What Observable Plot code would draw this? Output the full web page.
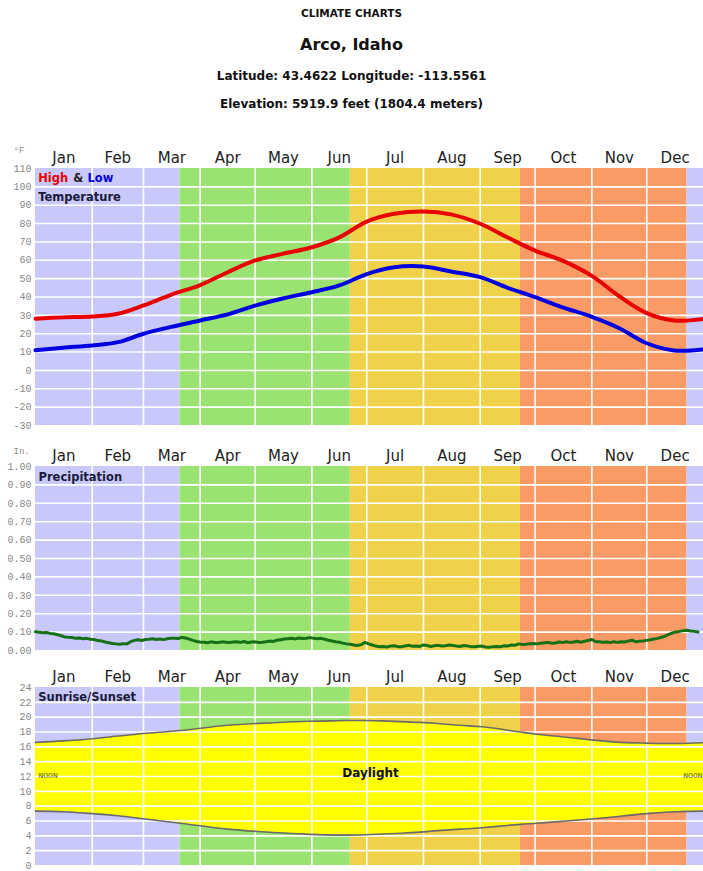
<!DOCTYPE html>
<html>
<head>
<meta charset="utf-8">
<script src="https://cdn.jsdelivr.net/npm/d3@7"></script>
<script src="https://cdn.jsdelivr.net/npm/@observablehq/plot@0.6"></script>
<style>
  body { margin: 0; background: #fff; width: 703px; overflow: hidden; }
  #head { position: relative; height: 140px; font-family: "DejaVu Sans", Verdana, sans-serif; font-weight: bold; color: #111; text-align: center; }
  #head div { position: absolute; left: 0; right: 0; line-height: 1; }
  .t1 { top: 8px; font-size: 10.5px; }
  .t2 { top: 37px; font-size: 16px; }
  .t3 { top: 70px; font-size: 12px; }
  .t4 { top: 98px; font-size: 12px; }
  svg { display: block; }
</style>
</head>
<body>
<div id="head">
  <div class="t1">CLIMATE CHARTS</div>
  <div class="t2">Arco, Idaho</div>
  <div class="t3">Latitude: 43.4622 Longitude: -113.5561</div>
  <div class="t4">Elevation: 5919.9 feet (1804.4 meters)</div>
</div>
<div id="charts"></div>
<script>
// ---- months & seasons ----
const monthNames = ["Jan","Feb","Mar","Apr","May","Jun","Jul","Aug","Sep","Oct","Nov","Dec"];
const monthStarts = [0,31,59,90,120,151,181,212,243,273,304,334,365];
const seasonStarts = [0,79,172,265,356];
const seasonEnds   = [79,172,265,356,365];
const seasonColors = ["#c8c8fa","#9ae272","#f0d24a","#fa9a64","#c8c8fa"];

// ---- temperature (°F) ----
const tempDays = [0,15,31,45,59,74,90,105,120,135,151,166,181,196,212,227,243,258,273,288,304,319,334,349,365];
const tempHigh = [28.2,28.9,29.4,30.9,35.4,41.2,46.5,53.5,59.9,63.5,67.1,72.5,81.1,85.3,86.6,85.0,79.9,72.4,65.3,59.8,51.5,40.4,31.2,27.2,28.1];
const tempLow  = [11.0,12.4,13.6,15.4,20.0,23.7,27.2,30.5,35.3,39.2,42.6,46.3,52.5,56.2,56.6,53.9,50.8,45.0,39.9,34.4,29.2,23.0,14.8,10.9,11.4];
const tempTicks = [-30,-20,-10,0,10,20,30,40,50,60,70,80,90,100,110];

// ---- precipitation (in., every 2 days) ----
const precipDays = [0,2,4,6,8,10,12,14,16,18,20,22,24,26,28,30,32,34,36,38,40,42,44,46,48,50,52,54,56,58,60,62,64,66,68,70,72,74,76,78,80,82,84,86,88,90,92,94,96,98,100,102,104,106,108,110,112,114,116,118,120,122,124,126,128,130,132,134,136,138,140,142,144,146,148,150,152,154,156,158,160,162,164,166,168,170,172,174,176,178,180,182,184,186,188,190,192,194,196,198,200,202,204,206,208,210,212,214,216,218,220,222,224,226,228,230,232,234,236,238,240,242,244,246,248,250,252,254,256,258,260,262,264,266,268,270,272,274,276,278,280,282,284,286,288,290,292,294,296,298,300,302,304,306,308,310,312,314,316,318,320,322,324,326,328,330,332,334,336,338,340,342,344,346,348,350,352,354,356,358,360,362,364,365];
const precipValues = [0.102,0.099,0.097,0.098,0.093,0.091,0.086,0.080,0.074,0.072,0.071,0.066,0.068,0.064,0.066,0.061,0.060,0.054,0.052,0.046,0.042,0.038,0.036,0.034,0.037,0.036,0.048,0.055,0.058,0.054,0.060,0.061,0.064,0.060,0.063,0.059,0.064,0.066,0.067,0.065,0.071,0.068,0.062,0.055,0.049,0.046,0.045,0.042,0.047,0.044,0.043,0.047,0.045,0.043,0.046,0.048,0.044,0.049,0.042,0.046,0.047,0.043,0.045,0.048,0.051,0.049,0.056,0.059,0.062,0.064,0.066,0.063,0.068,0.065,0.067,0.070,0.066,0.064,0.066,0.061,0.056,0.052,0.048,0.045,0.040,0.036,0.034,0.030,0.027,0.032,0.044,0.036,0.030,0.024,0.020,0.022,0.019,0.024,0.026,0.021,0.020,0.025,0.028,0.023,0.025,0.022,0.030,0.027,0.022,0.026,0.028,0.024,0.026,0.030,0.027,0.024,0.022,0.027,0.025,0.021,0.020,0.023,0.024,0.019,0.018,0.021,0.022,0.020,0.026,0.024,0.030,0.028,0.036,0.033,0.034,0.037,0.038,0.036,0.040,0.042,0.044,0.039,0.041,0.046,0.043,0.048,0.044,0.046,0.050,0.045,0.050,0.054,0.060,0.049,0.048,0.045,0.046,0.043,0.048,0.044,0.047,0.046,0.052,0.056,0.047,0.050,0.052,0.055,0.058,0.062,0.066,0.072,0.078,0.088,0.095,0.101,0.104,0.108,0.110,0.106,0.104,0.101];
const precipTicks = [0,0.1,0.2,0.3,0.4,0.5,0.6,0.7,0.8,0.9,1.0];

// ---- sunrise / sunset (hour of day) ----
const sunDays    = [0,15,31,45,59,79,105,130,150,165,172,180,190,200,210,220,232,244,265,274,290,305,320,334,350,365];
const sunriseHrs = [7.33,7.25,7.0,6.7,6.3,5.7,4.9,4.45,4.2,4.1,4.1,4.15,4.25,4.35,4.5,4.7,4.9,5.1,5.55,5.7,6.0,6.3,6.65,7.0,7.25,7.33];
const sunsetHrs  = [16.6,16.8,17.1,17.45,17.8,18.2,18.9,19.25,19.45,19.52,19.55,19.55,19.5,19.4,19.3,19.15,18.9,18.7,18.0,17.7,17.3,16.9,16.6,16.5,16.45,16.55];
const sunTicks = [0,2,4,6,8,10,12,14,16,18,20,22,24];

// ---- derived tables ----
const monthMids = monthNames.map((m, i) => (monthStarts[i] + monthStarts[i + 1]) / 2);
const seasons = seasonStarts.map((s, i) => ({start: s, end: seasonEnds[i], color: seasonColors[i]}));
const temps = tempDays.map((d, i) => ({day: d, high: tempHigh[i], low: tempLow[i]}));
const precip = precipDays.map((d, i) => ({day: d, v: precipValues[i]}));
const sun = sunDays.map((d, i) => ({day: d, rise: sunriseHrs[i], set: sunsetHrs[i]}));

const titleFont = "DejaVu Sans, Verdana, sans-serif";
const labelOpts = {frameAnchor: "top-left", textAnchor: "start", lineAnchor: "middle", fontWeight: "bold", fontSize: 11.5, fontFamily: titleFont};

function panel({height, marginTop, marginBottom, yDomain, yTicks, yFormat, unit, unitDy, under = [], over = []}) {
  const inner = yTicks.filter(t => t !== yDomain[0] && t !== yDomain[1]);
  return Plot.plot({
    width: 703, height, marginTop, marginBottom, marginLeft: 35, marginRight: 0,
    x: {domain: [0, 365]},
    y: {domain: yDomain},
    color: {type: "identity"},
    style: {background: "white", fontFamily: titleFont, overflow: "visible"},
    marks: [
      Plot.rect(seasons, {x1: "start", x2: "end", y1: yDomain[0], y2: yDomain[1], fill: "color"}),
      ...under,
      Plot.ruleY(inner, {stroke: "white", strokeWidth: 1.6}),
      Plot.ruleX(monthStarts.slice(1, 12), {stroke: "white", strokeWidth: 1.6}),
      ...over,
      Plot.axisX(monthMids, {anchor: "top", tickSize: 0, tickPadding: 6, label: null,
        tickFormat: d => monthNames[monthMids.indexOf(d)], fontSize: 15, fill: "#222", fontFamily: titleFont}),
      Plot.axisY(yTicks, {anchor: "left", tickSize: 0, tickPadding: 4, label: null,
        tickFormat: yFormat, fontSize: 10, fill: "#888", fontFamily: "Liberation Mono, monospace"}),
      Plot.text([unit], {text: d => d, frameAnchor: "top-left", textAnchor: "start", lineAnchor: "middle",
        dx: -22, dy: unitDy, fontSize: 9, fill: "#888", fontFamily: "Liberation Mono, monospace"})
    ]
  });
}

const charts = document.getElementById("charts");

charts.appendChild(panel({
  height: 297, marginTop: 28, marginBottom: 12,
  yDomain: [-30, 110], yTicks: tempTicks, yFormat: d => String(d), unit: "°F", unitDy: -18,
  over: [
    Plot.line(temps, {x: "day", y: "high", stroke: "#e80000", strokeWidth: 4, curve: "catmull-rom"}),
    Plot.line(temps, {x: "day", y: "low", stroke: "#0000e0", strokeWidth: 4, curve: "catmull-rom"}),
    Plot.text(["High"], {...labelOpts, text: d => d, dx: 2.7, dy: 10, fill: "#e80000"}),
    Plot.text(["&"], {...labelOpts, text: d => d, dx: 37.7, dy: 10, fill: "#222"}),
    Plot.text(["Low"], {...labelOpts, text: d => d, dx: 52, dy: 10, fill: "#0000e0"}),
    Plot.text(["Temperature"], {...labelOpts, text: d => d, dx: 2.7, dy: 28.7, fill: "#1a1a3a"})
  ]
}));

charts.appendChild(panel({
  height: 221, marginTop: 29, marginBottom: 8,
  yDomain: [0, 1], yTicks: precipTicks, yFormat: d3.format(".2f"), unit: "In.", unitDy: -15,
  over: [
    Plot.line(precip, {x: "day", y: "v", stroke: "#167016", strokeWidth: 3}),
    Plot.text(["Precipitation"], {...labelOpts, text: d => d, dx: 3, dy: 10.5, fill: "#1a1a3a"})
  ]
}));

charts.appendChild(panel({
  height: 213, marginTop: 29, marginBottom: 6,
  yDomain: [0, 24], yTicks: sunTicks, yFormat: d => String(d), unit: "", unitDy: -15,
  under: [
    Plot.areaY(sun, {x: "day", y1: "rise", y2: "set", fill: "#ffff00", curve: "catmull-rom"})
  ],
  over: [
    Plot.line(sun, {x: "day", y: "set", stroke: "#6a6a6a", strokeWidth: 1.6, curve: "catmull-rom"}),
    Plot.line(sun, {x: "day", y: "rise", stroke: "#6a6a6a", strokeWidth: 1.6, curve: "catmull-rom"}),
    Plot.text(["Sunrise/Sunset"], {...labelOpts, text: d => d, dx: 2.7, dy: 9.5, fill: "#1a1a3a"}),
    Plot.text(["Daylight"], {text: d => d, frameAnchor: "middle", dx: 1, dy: -3, fontWeight: "bold", fontSize: 12, fill: "#111", fontFamily: titleFont}),
    Plot.text(["NOON"], {text: d => d, frameAnchor: "left", textAnchor: "start", dx: 3, dy: -1, fontSize: 8, fill: "#5a5a00", fontFamily: "Liberation Mono, monospace"}),
    Plot.text(["NOON"], {text: d => d, frameAnchor: "right", textAnchor: "end", dx: -1, dy: -1, fontSize: 8, fill: "#5a5a00", fontFamily: "Liberation Mono, monospace"})
  ]
}));
</script>
</body>
</html>
